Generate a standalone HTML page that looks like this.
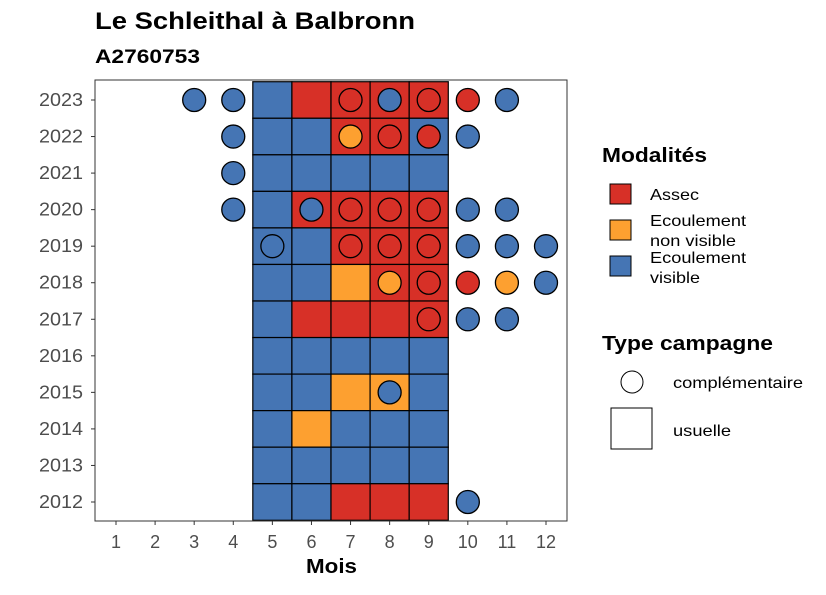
<!DOCTYPE html>
<html><head><meta charset="utf-8"><style>
body{margin:0;background:#fff;font-family:"Liberation Sans",sans-serif}
</style></head><body>
<svg id="c" width="826" height="590" viewBox="0 0 826 590" xmlns="http://www.w3.org/2000/svg" font-family="Liberation Sans, sans-serif">
<text x="95" y="29" font-size="24" font-weight="bold" textLength="320" lengthAdjust="spacingAndGlyphs">Le Schleithal à Balbronn</text>
<text x="95" y="63" font-size="19" font-weight="bold" textLength="105" lengthAdjust="spacingAndGlyphs">A2760753</text>
<g id="marks"></g>
<rect x="95" y="80" width="472" height="441" fill="none" stroke="#333" stroke-width="1"/>
<g id="axes"></g>
<text x="306" y="573" font-size="20" font-weight="bold" textLength="51" lengthAdjust="spacingAndGlyphs">Mois</text>
<g>
<text x="602" y="162" font-size="20" font-weight="bold" textLength="105" lengthAdjust="spacingAndGlyphs">Modalités</text>
<rect x="610" y="184" width="21" height="20" fill="#D73027" stroke="#000"/>
<text x="650" y="200" font-size="16" textLength="49" lengthAdjust="spacingAndGlyphs">Assec</text>
<rect x="610" y="220" width="21" height="20" fill="#FDA030" stroke="#000"/>
<text x="650" y="226" font-size="16" textLength="96" lengthAdjust="spacingAndGlyphs">Ecoulement</text>
<text x="650" y="246" font-size="16" textLength="86" lengthAdjust="spacingAndGlyphs">non visible</text>
<rect x="610" y="256" width="21" height="20" fill="#4575B4" stroke="#000"/>
<text x="650" y="263" font-size="16" textLength="96" lengthAdjust="spacingAndGlyphs">Ecoulement</text>
<text x="650" y="283" font-size="16" textLength="50" lengthAdjust="spacingAndGlyphs">visible</text>
<text x="602" y="350" font-size="20" font-weight="bold" textLength="171" lengthAdjust="spacingAndGlyphs">Type campagne</text>
<circle cx="632" cy="382" r="11" fill="#fff" stroke="#000"/>
<text x="673" y="388" font-size="16" textLength="130" lengthAdjust="spacingAndGlyphs">complémentaire</text>
<rect x="611" y="408" width="41" height="41" fill="#fff" stroke="#000"/>
<text x="673" y="436" font-size="16" textLength="58" lengthAdjust="spacingAndGlyphs">usuelle</text>
</g>
</svg>
<script>
const months=[1,2,3,4,5,6,7,8,9,10,11,12];
const years=[2012,2013,2014,2015,2016,2017,2018,2019,2020,2021,2022,2023];
// tiles (usuelle): A=Assec, N=non visible, V=visible
const tileYears=[2023,2023,2023,2023,2023,2022,2022,2022,2022,2022,2021,2021,2021,2021,2021,2020,2020,2020,2020,2020,2019,2019,2019,2019,2019,2018,2018,2018,2018,2018,2017,2017,2017,2017,2017,2016,2016,2016,2016,2016,2015,2015,2015,2015,2015,2014,2014,2014,2014,2014,2013,2013,2013,2013,2013,2012,2012,2012,2012,2012];
const tileMonths=[5,6,7,8,9,5,6,7,8,9,5,6,7,8,9,5,6,7,8,9,5,6,7,8,9,5,6,7,8,9,5,6,7,8,9,5,6,7,8,9,5,6,7,8,9,5,6,7,8,9,5,6,7,8,9,5,6,7,8,9];
const tileMods=["V","A","A","A","A","V","V","A","A","V","V","V","V","V","V","V","A","A","A","A","V","V","A","A","A","V","V","N","A","A","V","A","A","A","A","V","V","V","V","V","V","V","N","N","V","V","N","V","V","V","V","V","V","V","V","V","V","A","A","A"];
// circles (complémentaire)
const circYears=[2023,2023,2023,2023,2023,2023,2023,2022,2022,2022,2022,2022,2021,2020,2020,2020,2020,2020,2020,2020,2019,2019,2019,2019,2019,2019,2019,2018,2018,2018,2018,2018,2017,2017,2017,2015,2012];
const circMonths=[3,4,7,8,9,10,11,4,7,8,9,10,4,4,6,7,8,9,10,11,5,7,8,9,10,11,12,8,9,10,11,12,9,10,11,8,10];
const circMods=["V","V","A","V","A","A","V","V","N","A","A","V","V","V","V","A","A","A","V","V","V","A","A","A","V","V","V","N","A","A","N","V","A","V","V","V","V"];
const colors={A:"#D73027",N:"#FDA030",V:"#4575B4"};
const xS=m=>116+(m-1)*(546-116)/11;
const yS=y=>502-(y-2012)*(502-100)/11;
const bw=39.1, bh=36.55;
const NS="http://www.w3.org/2000/svg";
const g=document.getElementById('marks');
function mk(t,a,p){const e=document.createElementNS(NS,t);for(const k in a)e.setAttribute(k,a[k]);p.appendChild(e);return e;}
tileYears.forEach((y,i)=>{
  const r=mk('rect',{x:xS(tileMonths[i])-bw/2,y:yS(y)-bh/2,width:bw,height:bh,fill:colors[tileMods[i]],stroke:'#000','stroke-width':1.2},g);
  
  
});
circYears.forEach((y,i)=>{
  const c=mk('circle',{cx:xS(circMonths[i]),cy:yS(y),r:11.5,fill:colors[circMods[i]],stroke:'#000','stroke-width':1.3},g);
  
  
});
const ax=document.getElementById('axes');
months.forEach(m=>{
  const l=mk('line',{x1:xS(m),x2:xS(m),y1:521,y2:525,stroke:'#333'},ax);
  
  
  const t=mk('text',{x:xS(m),y:548,'font-size':18,fill:'#4d4d4d','text-anchor':'middle'},ax);
  t.textContent=m;
  
  
});
years.forEach(y=>{
  const l=mk('line',{x1:91,x2:95,y1:yS(y),y2:yS(y),stroke:'#333'},ax);
  
  
  const t=mk('text',{x:39,y:yS(y)+6,'font-size':18,fill:'#4d4d4d',textLength:44,lengthAdjust:'spacingAndGlyphs'},ax);
  t.textContent=y;
  
  
});
</script>
</body></html>
